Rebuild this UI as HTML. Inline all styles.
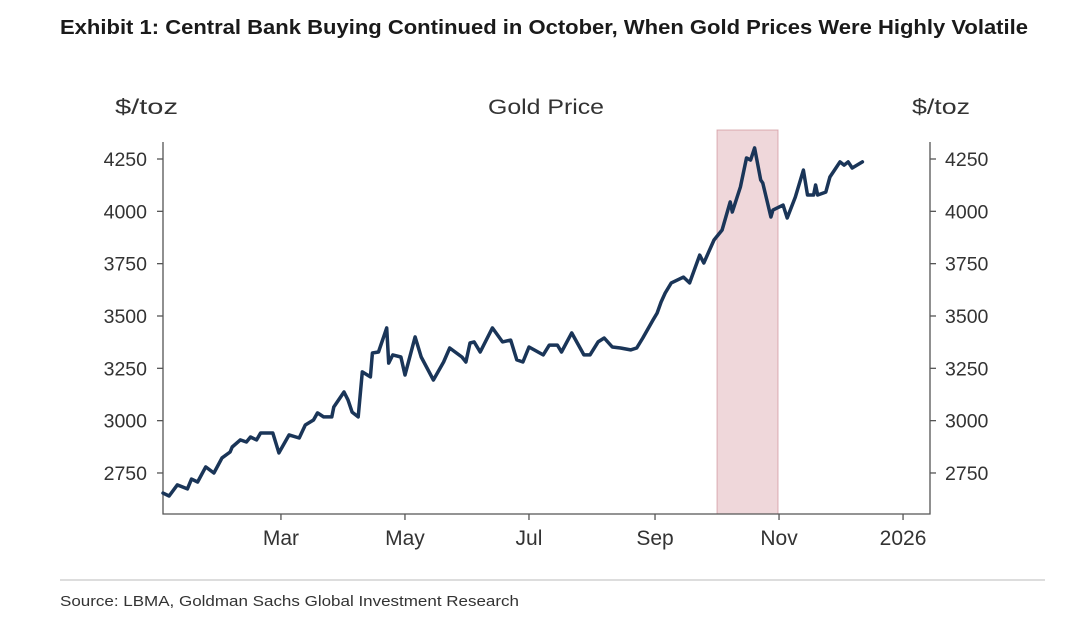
<!DOCTYPE html>
<html><head><meta charset="utf-8"><style>
body{margin:0;background:#fff;width:1080px;height:622px;overflow:hidden;font-family:"Liberation Sans",sans-serif;}
svg text{font-family:"Liberation Sans",sans-serif;}
</style></head><body>
<svg id="chart" width="1080" height="622">
<text x="60" y="34" font-size="20" font-weight="bold" fill="#1a1a1a" textLength="968" lengthAdjust="spacingAndGlyphs">Exhibit 1: Central Bank Buying Continued in October, When Gold Prices Were Highly Volatile</text>
<text x="115" y="114" font-size="21" fill="#333" textLength="63" lengthAdjust="spacingAndGlyphs">$/toz</text>
<text x="488" y="114" font-size="21" fill="#333" textLength="116" lengthAdjust="spacingAndGlyphs">Gold Price</text>
<text x="912" y="114" font-size="21" fill="#333" textLength="58" lengthAdjust="spacingAndGlyphs">$/toz</text>
<line x1="60" y1="580" x2="1045" y2="580" stroke="#bbb" stroke-width="1"/>
<text x="60" y="606" font-size="15" fill="#333" textLength="459" lengthAdjust="spacingAndGlyphs">Source: LBMA, Goldman Sachs Global Investment Research</text>
<g id="plot"></g>
</svg>
<script>
const days=[1,4,8,13,15,18,22,26,30,34,35,39,42,44,47,49,55,58,63,68,71,75,77,80,84,85,90,92,94,97,99,103,104,107,111,112,114,118,120,125,128,134,139,142,148,150,152,154,157,163,168,172,175,178,181,188,191,195,197,202,208,211,215,218,222,226,231,234,237,242,244,246,248,251,257,260,265,267,272,276,280,281,285,288,290,292,295,296,300,301,306,308,312,316,318,321,322,323,327,329,334,336,338,340,345];
const prices=[2654,2640,2693,2674,2721,2707,2779,2750,2822,2850,2874,2908,2898,2922,2908,2941,2941,2846,2932,2917,2979,3003,3037,3018,3018,3065,3137,3099,3041,3018,3233,3209,3323,3328,3443,3275,3314,3304,3218,3400,3304,3194,3280,3347,3304,3280,3371,3376,3328,3443,3376,3385,3290,3280,3352,3314,3361,3361,3328,3419,3314,3314,3376,3395,3352,3347,3338,3347,3395,3481,3514,3567,3610,3658,3686,3658,3791,3753,3863,3911,4045,3997,4116,4255,4245,4303,4150,4135,3973,4006,4030,3968,4068,4197,4078,4078,4126,4078,4092,4164,4236,4221,4236,4207,4236];
const yTicks=[2750,3000,3250,3500,3750,4000,4250];
const xTickDays=[59,120,181,243,304,365];
const xTickLabels=["Mar","May","Jul","Sep","Nov","2026"];
const shadeStart=273.5, shadeEnd=303.5;
const NS="http://www.w3.org/2000/svg";
const L=163,R=930,T=130,B=514;
const x=d=>161+2.033*d;
const y=v=>159+(4250-v)*52.33/250;
const g=document.getElementById('plot');
function mk(tag,attrs){const e=document.createElementNS(NS,tag);for(const k in attrs)e.setAttribute(k,attrs[k]);g.appendChild(e);return e;}
let r=mk('rect',{x:x(shadeStart),y:T,width:x(shadeEnd)-x(shadeStart),height:B-T,fill:'rgba(214,150,158,0.38)',stroke:'rgba(200,130,140,0.6)','stroke-width':1});


let ax=mk('path',{d:`M${L},${T+12}V${B}H${R}V${T+12}`,fill:'none',stroke:'#555','stroke-width':1.3});


yTicks.forEach(v=>{
  mk('line',{x1:L-6,x2:L,y1:y(v),y2:y(v),stroke:'#555','stroke-width':1.3});
  mk('line',{x1:R,x2:R+6,y1:y(v),y2:y(v),stroke:'#555','stroke-width':1.3});
  let t=mk('text',{x:147,y:y(v)+7,'font-size':19.5,fill:'#333','text-anchor':'end'});t.textContent=v;
  
  
  let t2=mk('text',{x:945,y:y(v)+7,'font-size':19.5,fill:'#333'});t2.textContent=v;
  
  
});
xTickDays.forEach((d,i)=>{
  mk('line',{x1:x(d),x2:x(d),y1:B,y2:B+6,stroke:'#555','stroke-width':1.3});
  let t=mk('text',{x:x(d),y:B+31,'font-size':21,fill:'#333','text-anchor':'middle'});t.textContent=xTickLabels[i];
  
  
});
let p=mk('path',{d:days.map((d,i)=>(i?'L':'M')+x(d).toFixed(1)+','+y(prices[i]).toFixed(1)).join(''),fill:'none',stroke:'#1a3558','stroke-width':3.5,'stroke-linejoin':'round','stroke-linecap':'round'});


</script>
</body></html>
